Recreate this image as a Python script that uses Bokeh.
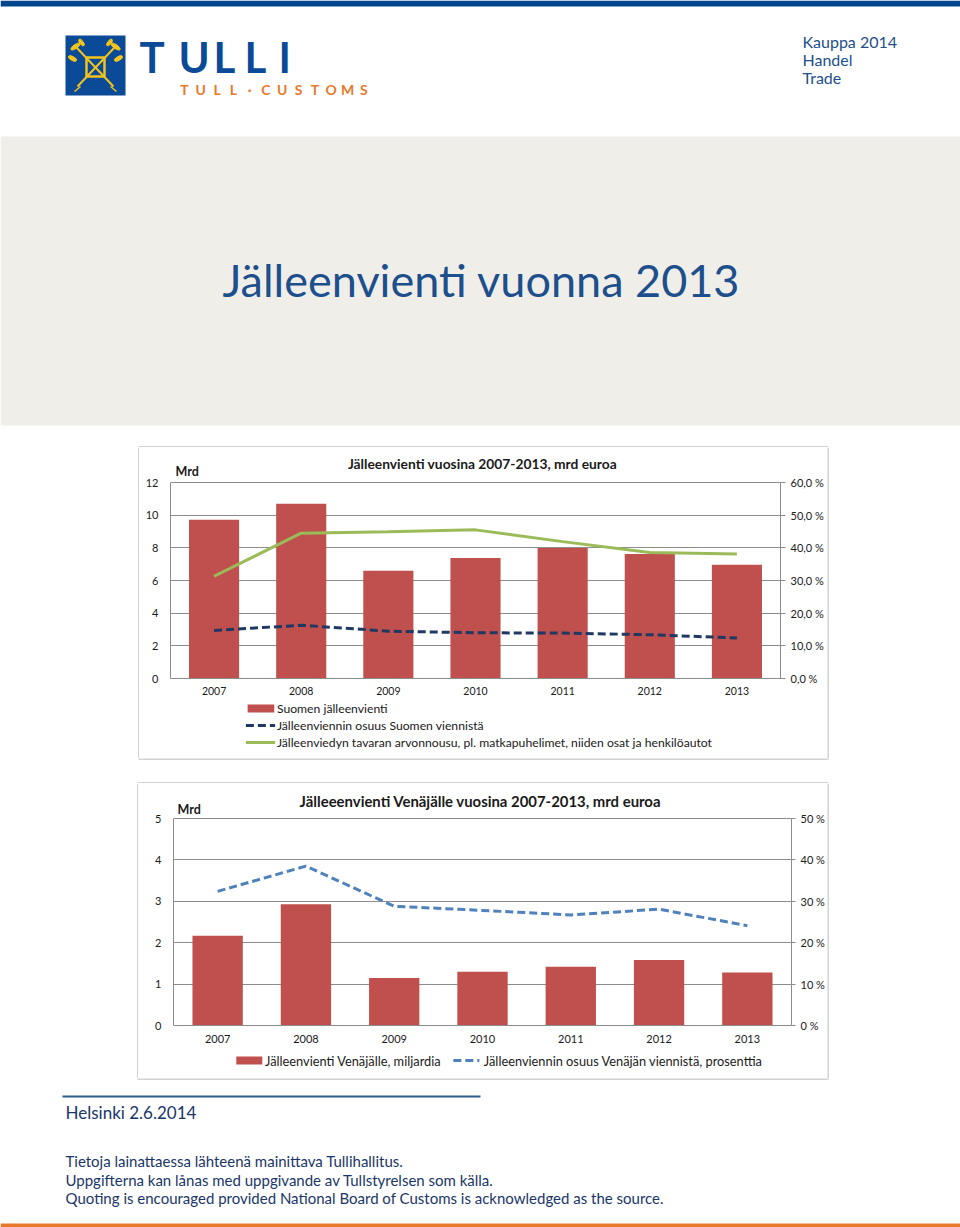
from bokeh.plotting import figure
from bokeh.models import (Range1d, FactorRange, LinearAxis, FixedTicker, CustomJSTickFormatter,
                          ColumnDataSource)
from bokeh.layouts import column, row
from bokeh.core.properties import value
from bokeh.embed import file_html
from bokeh.resources import INLINE

FONT = "Lato"

# ---------------- data ----------------
years = ["2007", "2008", "2009", "2010", "2011", "2012", "2013"]
reexport_bn = [9.72, 10.70, 6.59, 7.38, 7.99, 7.63, 6.96]
reexport_share_pct = [14.7, 16.3, 14.5, 14.0, 13.9, 13.4, 12.4]
value_added_pct = [31.3, 44.5, 44.9, 45.5, 41.9, 38.6, 38.1]
russia_bn = [2.17, 2.93, 1.15, 1.30, 1.42, 1.58, 1.28]
russia_share_pct = [32.4, 38.5, 28.8, 27.8, 26.7, 28.1, 24.1]

c1_left_ticks = [0, 2, 4, 6, 8, 10, 12]
c1_right_ticks = [0, 10, 20, 30, 40, 50, 60]
c2_left_ticks = [0, 1, 2, 3, 4, 5]
c2_right_ticks = [0, 10, 20, 30, 40, 50]

c1_title = "Jälleenvienti vuosina 2007-2013, mrd euroa"
c1_labels = ["Suomen jälleenvienti",
             "Jälleenviennin osuus Suomen viennistä",
             "Jälleenviedyn tavaran arvonnousu, pl. matkapuhelimet, niiden osat ja henkilöautot"]
c2_title = "Jälleeenvienti Venäjälle vuosina 2007-2013, mrd euroa"
c2_labels = ["Jälleenvienti Venäjälle, miljardia",
             "Jälleenviennin osuus Venäjän viennistä, prosenttia"]
unit_label = "Mrd"

page_title = "Jälleenvienti vuonna 2013"
header_right = ["Kauppa 2014", "Handel", "Trade"]
logo_word = "TULLI"
logo_sub = "TULL·CUSTOMS"
date_text = "Helsinki 2.6.2014"
footer_lines = ["Tietoja lainattaessa lähteenä mainittava Tullihallitus.",
                "Uppgifterna kan lånas med uppgivande av Tullstyrelsen som källa.",
                "Quoting is encouraged provided National Board of Customs is acknowledged as the source."]

RED = "#c0504d"
GREEN = "#9bbb59"
NAVY = "#1f3864"
BLUE = "#4f81bd"
GRID = "#8c8c8c"
BOX = "#a6a6a6"
TXT = "#1a1a1a"
CBLUE = "#0b4a97"
TBLUE = "#1d4f8c"
ORANGE = "#e8792b"
FOOT = "#1a3668"
DASH = "8 4"


def deco(x0, x1, y0, y1):
    """Decoration figure whose data coordinates are page pixels (y downwards)."""
    f = figure(width=x1 - x0, height=y1 - y0, x_range=Range1d(x0, x1), y_range=Range1d(y1, y0),
               output_backend="svg", toolbar_location=None, min_border=0,
               x_axis_location=None, y_axis_location=None, title=None)
    f.grid.visible = False
    f.outline_line_color = None
    f.background_fill_color = "white"
    f.border_fill_color = "white"
    return f


def hline(f, x0, x1, y, color=BOX, w=1, dash="solid"):
    f.segment(x0=[x0], y0=[y], x1=[x1], y1=[y], line_color=color, line_width=w, line_dash=dash)


def vline(f, x, y0, y1, color=BOX, w=1):
    f.segment(x0=[x], y0=[y0], x1=[x], y1=[y1], line_color=color, line_width=w)


def label(f, x, y, txt, size, color=TXT, bold=False, align="left"):
    f.text(x=[x], y=[y], text=[txt], text_font=value(FONT), text_font_size=size,
           text_font_style=("bold" if bold else "normal"), text_color=color,
           text_baseline="middle", text_align=align)


# ---------------- header (page y 0..447) ----------------
hd = deco(0, 960, 0, 447)
hd.quad(left=[0], right=[960], top=[0], bottom=[6], color="#00468c", line_color=None)
hd.quad(left=[0], right=[960], top=[136], bottom=[425], color="#f0eee9", line_color=None)
hd.quad(left=[65], right=[125], top=[35], bottom=[95], color=CBLUE, line_color=None)
YEL = "#f2c41c"
hd.segment(x0=[76, 114], y0=[47, 47], x1=[113, 77], y1=[86, 86], line_color=YEL, line_width=2)
hd.quad(left=[86], right=[104], top=[57], bottom=[76], fill_alpha=0, line_color=YEL, line_width=2.5)
hd.ellipse(x=[75, 115, 72, 118], y=[46, 46, 58, 58], width=[11, 11, 9, 9], height=[4, 4, 4, 4],
           angle=[0.6, -0.6, -0.5, 0.5], color=YEL)
hd.ellipse(x=[81, 109], y=[42, 42], width=[8, 8], height=[3.5, 3.5], angle=[-0.9, 0.9], color=YEL)
hd.segment(x0=[80, 110], y0=[86, 86], x1=[74, 116], y1=[91, 91], line_color=YEL, line_width=1.5)
hd.text(x=[139, 178, 213, 244, 278], y=[56] * 5, text=list(logo_word),
        text_font=value(FONT), text_font_style="bold", text_font_size="42px",
        text_color=CBLUE, text_baseline="middle", text_align="left")
hd.text(x=[184 + i * 16.3 for i in range(len(logo_sub))], y=[89] * len(logo_sub), text=list(logo_sub),
        text_font=value(FONT), text_font_style="bold", text_font_size="14px",
        text_color=ORANGE, text_baseline="middle", text_align="center")
hd.text(x=[802] * 3, y=[41, 59, 77], text=header_right, text_font=value(FONT),
        text_font_size="16px", text_color=TBLUE, text_baseline="middle", text_align="left")
label(hd, 222, 279, page_title, "45px", color=TBLUE)
hline(hd, 138, 828, 446.5)


def make_chart(x0, x1, y0, y1, frame_left, frame_right, zero_y, top_tick_y, top_tick, rmax_tick,
               left_ticks, right_ticks, fmt_code, xfs, yfs, xstand):
    """Chart figure covering page x0..x1, y0..y1; frame top = y0, frame bottom = zero line."""
    ppu = (zero_y - top_tick_y) / top_tick
    ymax = (zero_y - y0) / ppu
    ratio = rmax_tick / top_tick
    p = figure(width=x1 - x0, height=y1 - y0, x_range=FactorRange(*years), y_range=Range1d(0, ymax),
               output_backend="svg", toolbar_location=None, title=None,
               min_border_left=frame_left - x0, min_border_right=x1 - frame_right,
               min_border_top=0, min_border_bottom=y1 - zero_y)
    p.extra_y_ranges = {"pct": Range1d(0, ymax * ratio)}
    p.outline_line_color = None
    p.background_fill_color = "white"
    p.border_fill_color = "white"
    p.xgrid.visible = False
    p.ygrid.ticker = FixedTicker(ticks=left_ticks)
    p.ygrid.grid_line_color = GRID
    p.yaxis.ticker = FixedTicker(ticks=left_ticks)
    p.yaxis.bounds = (0, top_tick)
    p.yaxis.major_tick_out = 0
    p.yaxis.major_tick_in = 0
    p.yaxis.minor_tick_out = 0
    p.yaxis.minor_tick_in = 0
    p.yaxis.axis_line_color = GRID
    p.yaxis.major_label_standoff = 12
    p.yaxis.major_label_text_font = FONT
    p.yaxis.major_label_text_font_size = yfs
    p.yaxis.major_label_text_color = TXT
    p.xaxis.major_tick_out = 0
    p.xaxis.major_tick_in = 0
    p.xaxis.axis_line_color = GRID
    p.xaxis.major_label_standoff = xstand
    p.xaxis.major_label_text_font = FONT
    p.xaxis.major_label_text_font_size = xfs
    p.xaxis.major_label_text_color = TXT
    ax = LinearAxis(y_range_name="pct", ticker=FixedTicker(ticks=right_ticks),
                    formatter=CustomJSTickFormatter(code=fmt_code), bounds=(0, rmax_tick))
    ax.major_tick_out = 5
    ax.major_tick_in = 0
    ax.minor_tick_out = 0
    ax.minor_tick_in = 0
    ax.axis_line_color = GRID
    ax.major_tick_line_color = GRID
    ax.major_label_standoff = 5
    ax.major_label_text_font = FONT
    ax.major_label_text_font_size = yfs
    ax.major_label_text_color = TXT
    p.add_layout(ax, "right")
    band = (frame_right - frame_left) / len(years)

    def to_xy(px, py):
        return (px - frame_left) / band, (zero_y - py) / ppu
    return p, to_xy


# ---------------- chart 1 (box page x 138..827, y 446..758) ----------------
p1, xy1 = make_chart(139, 827, 447, 699, 170, 780, 678, 482, 12, 60,
                     c1_left_ticks, c1_right_ticks,
                     "return tick.toFixed(1).replace('.', ',') + ' %';", "10.5px", "11px", 8)
s1 = ColumnDataSource(dict(year=years, bn=reexport_bn, share=reexport_share_pct, added=value_added_pct))
p1.vbar(x="year", top="bn", width=0.575, source=s1, color=RED, line_color=None)
p1.line(x="year", y="added", source=s1, y_range_name="pct", line_color=GREEN, line_width=3)
p1.line(x="year", y="share", source=s1, y_range_name="pct", line_color=NAVY, line_width=3,
        line_dash=DASH)
tx, ty = xy1(482, 463)
p1.text(x=[tx], y=[ty], text=[c1_title], text_font=value(FONT), text_font_style="bold",
        text_font_size="13.8px", text_color=TXT, text_align="center", text_baseline="middle")
mx, my = xy1(175, 471)
p1.text(x=[mx], y=[my], text=[unit_label], text_font=value(FONT), text_font_style="bold",
        text_font_size="12.5px", text_color=TXT, text_align="left", text_baseline="middle")

# legend of chart 1 (page y 699..758)
lf1 = deco(139, 827, 699, 758)
lf1.quad(left=[226], right=[256], top=[704], bottom=[712], color=RED, line_color=None)
hline(lf1, 224, 257, 725, color=NAVY, w=3, dash=DASH)
hline(lf1, 224, 257, 742, color=GREEN, w=3)
for yy, txt in zip([708, 725, 742], c1_labels):
    label(lf1, 259, yy, txt, "12.2px")

leftA = deco(0, 139, 447, 758)
vline(leftA, 138.5, 447, 758)
rightA = deco(827, 960, 447, 758)
vline(rightA, 827.5, 447, 758)

gap = deco(0, 960, 758, 783)
hline(gap, 138, 828, 758.5)
hline(gap, 137, 828, 782.5)

# ---------------- chart 2 (box page x 137..828, y 782..1078) ----------------
p2, xy2 = make_chart(138, 827, 783, 1050, 173, 791, 1025, 818, 5, 50,
                     c2_left_ticks, c2_right_ticks,
                     "return tick.toFixed(0) + ' %';", "11px", "11px", 9)
p2.right[0].major_tick_out = 4
s2 = ColumnDataSource(dict(year=years, bn=russia_bn, share=russia_share_pct))
p2.vbar(x="year", top="bn", width=0.57, source=s2, color=RED, line_color=None)
p2.line(x="year", y="share", source=s2, y_range_name="pct", line_color=BLUE, line_width=3,
        line_dash=DASH)
tx, ty = xy2(480, 800)
p2.text(x=[tx], y=[ty], text=[c2_title], text_font=value(FONT), text_font_style="bold",
        text_font_size="14.9px", text_color=TXT, text_align="center", text_baseline="middle")
mx, my = xy2(177, 809)
p2.text(x=[mx], y=[my], text=[unit_label], text_font=value(FONT), text_font_style="bold",
        text_font_size="12.5px", text_color=TXT, text_align="left", text_baseline="middle")

# legend of chart 2 (page y 1050..1078)
lf2 = deco(138, 827, 1050, 1078)
lf2.quad(left=[208], right=[237], top=[1056], bottom=[1064], color=RED, line_color=None)
label(lf2, 240, 1060, c2_labels[0], "12.8px")
hline(lf2, 450, 479, 1060, color=BLUE, w=3, dash=DASH)
label(lf2, 484, 1060, c2_labels[1], "12.8px")

leftB = deco(0, 138, 783, 1078)
vline(leftB, 137.5, 783, 1078)
rightB = deco(827, 960, 783, 1078)
vline(rightB, 827.5, 783, 1078)

# ---------------- footer (page y 1078..1227) ----------------
ft = deco(0, 960, 1078, 1227)
hline(ft, 137, 828, 1078.5)
hline(ft, 62, 480, 1096, color="#2e5c8a", w=2)
label(ft, 65, 1112, date_text, "17px", color=FOOT)
for yy, txt in zip([1160, 1179, 1197], footer_lines):
    label(ft, 65, yy, txt, "15px", color=FOOT)
ft.quad(left=[0], right=[960], top=[1223], bottom=[1227], color="#e8792b", line_color=None)

layout = column(
    hd,
    row(leftA, column(p1, lf1), rightA),
    gap,
    row(leftB, column(p2, lf2), rightB),
    ft,
)

open("out.html", "w").write(file_html(layout, INLINE, title="Jälleenvienti vuonna 2013"))
